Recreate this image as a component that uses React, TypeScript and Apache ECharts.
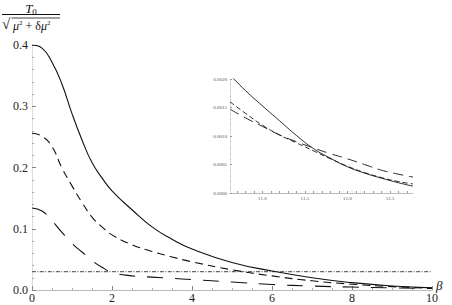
import React, { useEffect, useRef } from "react";
import * as echarts from "echarts";

// Main plot data (beta vs T0 / sqrt(mu^2 + dmu^2))
const betaMain = [0, 0.25, 0.5, 0.75, 1, 1.25, 1.5, 1.75, 2, 2.5, 3, 3.5, 4, 5, 6, 7, 8, 9, 10];
const solidMain = [0.4, 0.395, 0.372, 0.336, 0.288, 0.245, 0.208, 0.183, 0.162, 0.131, 0.103, 0.083, 0.067, 0.045, 0.031, 0.02, 0.012, 0.0065, 0.0035];
const dashedMain = [0.256, 0.251, 0.234, 0.199, 0.17, 0.143, 0.119, 0.103, 0.09, 0.074, 0.063, 0.054, 0.046, 0.033, 0.023, 0.015, 0.0095, 0.0055, 0.003];
const longDashedMain = [0.134, 0.129, 0.113, 0.094, 0.076, 0.062, 0.048, 0.037, 0.029, 0.023, 0.021, 0.019, 0.017, 0.013, 0.009, 0.0065, 0.0048, 0.0035, 0.0025];
const dotDashBeta = [0, 10];
const dotDashValue = [0.03, 0.03];

// Inset data
const betaInset = [10.62, 10.8, 11.0, 11.2, 11.4, 11.6, 11.8, 12.0, 12.2, 12.4, 12.6, 12.77];
const solidInset = [0.00207, 0.0018, 0.00153, 0.00127, 0.00101, 0.00078, 0.00061, 0.00046, 0.00035, 0.00026, 0.00018, 0.00012];
const dashedInset = [0.0016, 0.0014, 0.00119, 0.00102, 0.00088, 0.00074, 0.0006, 0.00047, 0.00036, 0.00027, 0.0002, 0.00016];
const longDashedInset = [0.00147, 0.00132, 0.00117, 0.00102, 0.0009, 0.00079, 0.00069, 0.0006, 0.0005, 0.0004, 0.00033, 0.00028];

const mainXTicks = [0, 2, 4, 6, 8, 10];
const insetXLabels = [11, 11.5, 12, 12.5];

const zip = (xs: number[], ys: number[]) => xs.map((x, i) => [x, ys[i]]);

const SERIF = "'Liberation Serif', 'DejaVu Serif', serif";
const LINE = "#111";

export default function App() {
  const ref = useRef<HTMLDivElement>(null);
  useEffect(() => {
    if (!ref.current) return;
    const chart = echarts.init(ref.current, undefined, { renderer: "svg" });
    const insetTicks: number[] = [];
    for (let k = 107; k <= 127; k++) insetTicks.push(k / 10);

    const lineSeries = (
      data: number[][],
      type: any,
      width: number,
      axis: number,
      color = LINE
    ) => ({
      type: "line",
      data,
      xAxisIndex: axis,
      yAxisIndex: axis,
      showSymbol: false,
      symbol: "none",
      smooth: true,
      lineStyle: { color, width, type },
      silent: true,
    });

    chart.setOption({
      animation: false,
      backgroundColor: "#fff",
      textStyle: { fontFamily: SERIF },
      grid: [
        { left: 32, top: 45, width: 400, height: 245 },
        { left: 230, top: 79, width: 183, height: 114 },
      ],
      xAxis: [
        {
          gridIndex: 0,
          type: "value",
          min: 0,
          max: 10,
          interval: 2,
          axisLine: { show: true, onZero: false, lineStyle: { color: "#bbb", width: 1 } },
          axisTick: { show: true, inside: true, length: 4, lineStyle: { color: "#888" } },
          minorTick: { show: true, splitNumber: 4, length: 2, lineStyle: { color: "#aaa" } },
          axisLabel: {
            fontFamily: SERIF,
            fontSize: 12,
            color: "#222",
            margin: 2,
            formatter: (v: number) => (mainXTicks.includes(v) ? String(v) : ""),
          },
          splitLine: { show: false },
        },
        {
          gridIndex: 1,
          type: "value",
          min: betaInset[0],
          max: betaInset[betaInset.length - 1],
          axisLine: { show: true, onZero: false, lineStyle: { color: "#bbb", width: 1 } },
          axisTick: {
            show: true,
            inside: true,
            length: 2,
            customValues: insetTicks,
            lineStyle: { color: "#999" },
          },
          axisLabel: {
            fontFamily: SERIF,
            fontSize: 5,
            color: "#555",
            margin: 3,
            customValues: insetXLabels,
            formatter: (v: number) => v.toFixed(1),
          },
          splitLine: { show: false },
        },
      ],
      yAxis: [
        {
          gridIndex: 0,
          type: "value",
          min: 0,
          max: 0.4,
          interval: 0.1,
          axisLine: { show: true, onZero: false, lineStyle: { color: "#ddd", width: 1 } },
          axisTick: { show: true, inside: true, length: 4, lineStyle: { color: "#888" } },
          minorTick: { show: true, splitNumber: 5, length: 2, lineStyle: { color: "#aaa" } },
          axisLabel: {
            fontFamily: SERIF,
            fontSize: 12,
            color: "#222",
            margin: 4,
            formatter: (v: number) => v.toFixed(1),
          },
          splitLine: { show: false },
        },
        {
          gridIndex: 1,
          type: "value",
          min: 0,
          max: 0.002,
          interval: 0.0005,
          axisLine: { show: true, onZero: false, lineStyle: { color: "#ddd", width: 1 } },
          axisTick: { show: true, inside: true, length: 2, lineStyle: { color: "#999" } },
          minorTick: { show: true, splitNumber: 5, length: 1, lineStyle: { color: "#bbb" } },
          axisLabel: {
            fontFamily: SERIF,
            fontSize: 5,
            color: "#555",
            margin: 3,
            formatter: (v: number) => v.toFixed(4),
          },
          splitLine: { show: false },
        },
      ],
      series: [
        lineSeries(zip(dotDashBeta, dotDashValue), [4, 1.5, 1, 1.5], 1.2, 0, "#666"),
        lineSeries(zip(betaMain, solidMain), "solid", 1.1, 0),
        lineSeries(zip(betaMain, dashedMain), [8, 5], 1.1, 0),
        lineSeries(zip(betaMain, longDashedMain), [16, 12], 1.1, 0),
        lineSeries(zip(betaInset, solidInset), "solid", 0.9, 1),
        lineSeries(zip(betaInset, dashedInset), [5, 3], 0.9, 1),
        lineSeries(zip(betaInset, longDashedInset), [10, 6], 0.9, 1),
      ],
      graphic: [
        {
          type: "text",
          x: 31,
          y: 1,
          style: {
            text: "{i|T}{s|0}",
            textAlign: "center",
            rich: {
              i: { fontFamily: SERIF, fontStyle: "italic", fontSize: 13, fill: "#111" },
              s: { fontFamily: SERIF, fontSize: 9, fill: "#111", padding: [6, 0, 0, 0] },
            },
          },
        },
        { type: "line", shape: { x1: 2, y1: 14.5, x2: 60, y2: 14.5 }, style: { stroke: "#111", lineWidth: 1 } },
        {
          type: "text",
          x: 2,
          y: 16,
          style: { text: "√", fontFamily: SERIF, fontSize: 15, fill: "#111" },
        },
        { type: "line", shape: { x1: 11.5, y1: 18, x2: 60, y2: 18 }, style: { stroke: "#111", lineWidth: 0.8 } },
        {
          type: "text",
          x: 13,
          y: 19,
          style: {
            text: "{i|μ}{s|2}{n| + δ}{i|μ}{s|2}",
            rich: {
              i: { fontFamily: SERIF, fontStyle: "italic", fontSize: 12, fill: "#111" },
              n: { fontFamily: SERIF, fontSize: 12, fill: "#111" },
              s: { fontFamily: SERIF, fontSize: 7, fill: "#111", padding: [0, 0, 6, 0] },
            },
          },
        },
        {
          type: "text",
          x: 436,
          y: 279,
          style: { text: "β", fontFamily: SERIF, fontStyle: "italic", fontSize: 13, fill: "#111" },
        },
      ],
    });
    return () => chart.dispose();
  }, []);
  return <div ref={ref} style={{ width: 452, height: 305, position: "absolute", left: 0, top: 0 }} />;
}
